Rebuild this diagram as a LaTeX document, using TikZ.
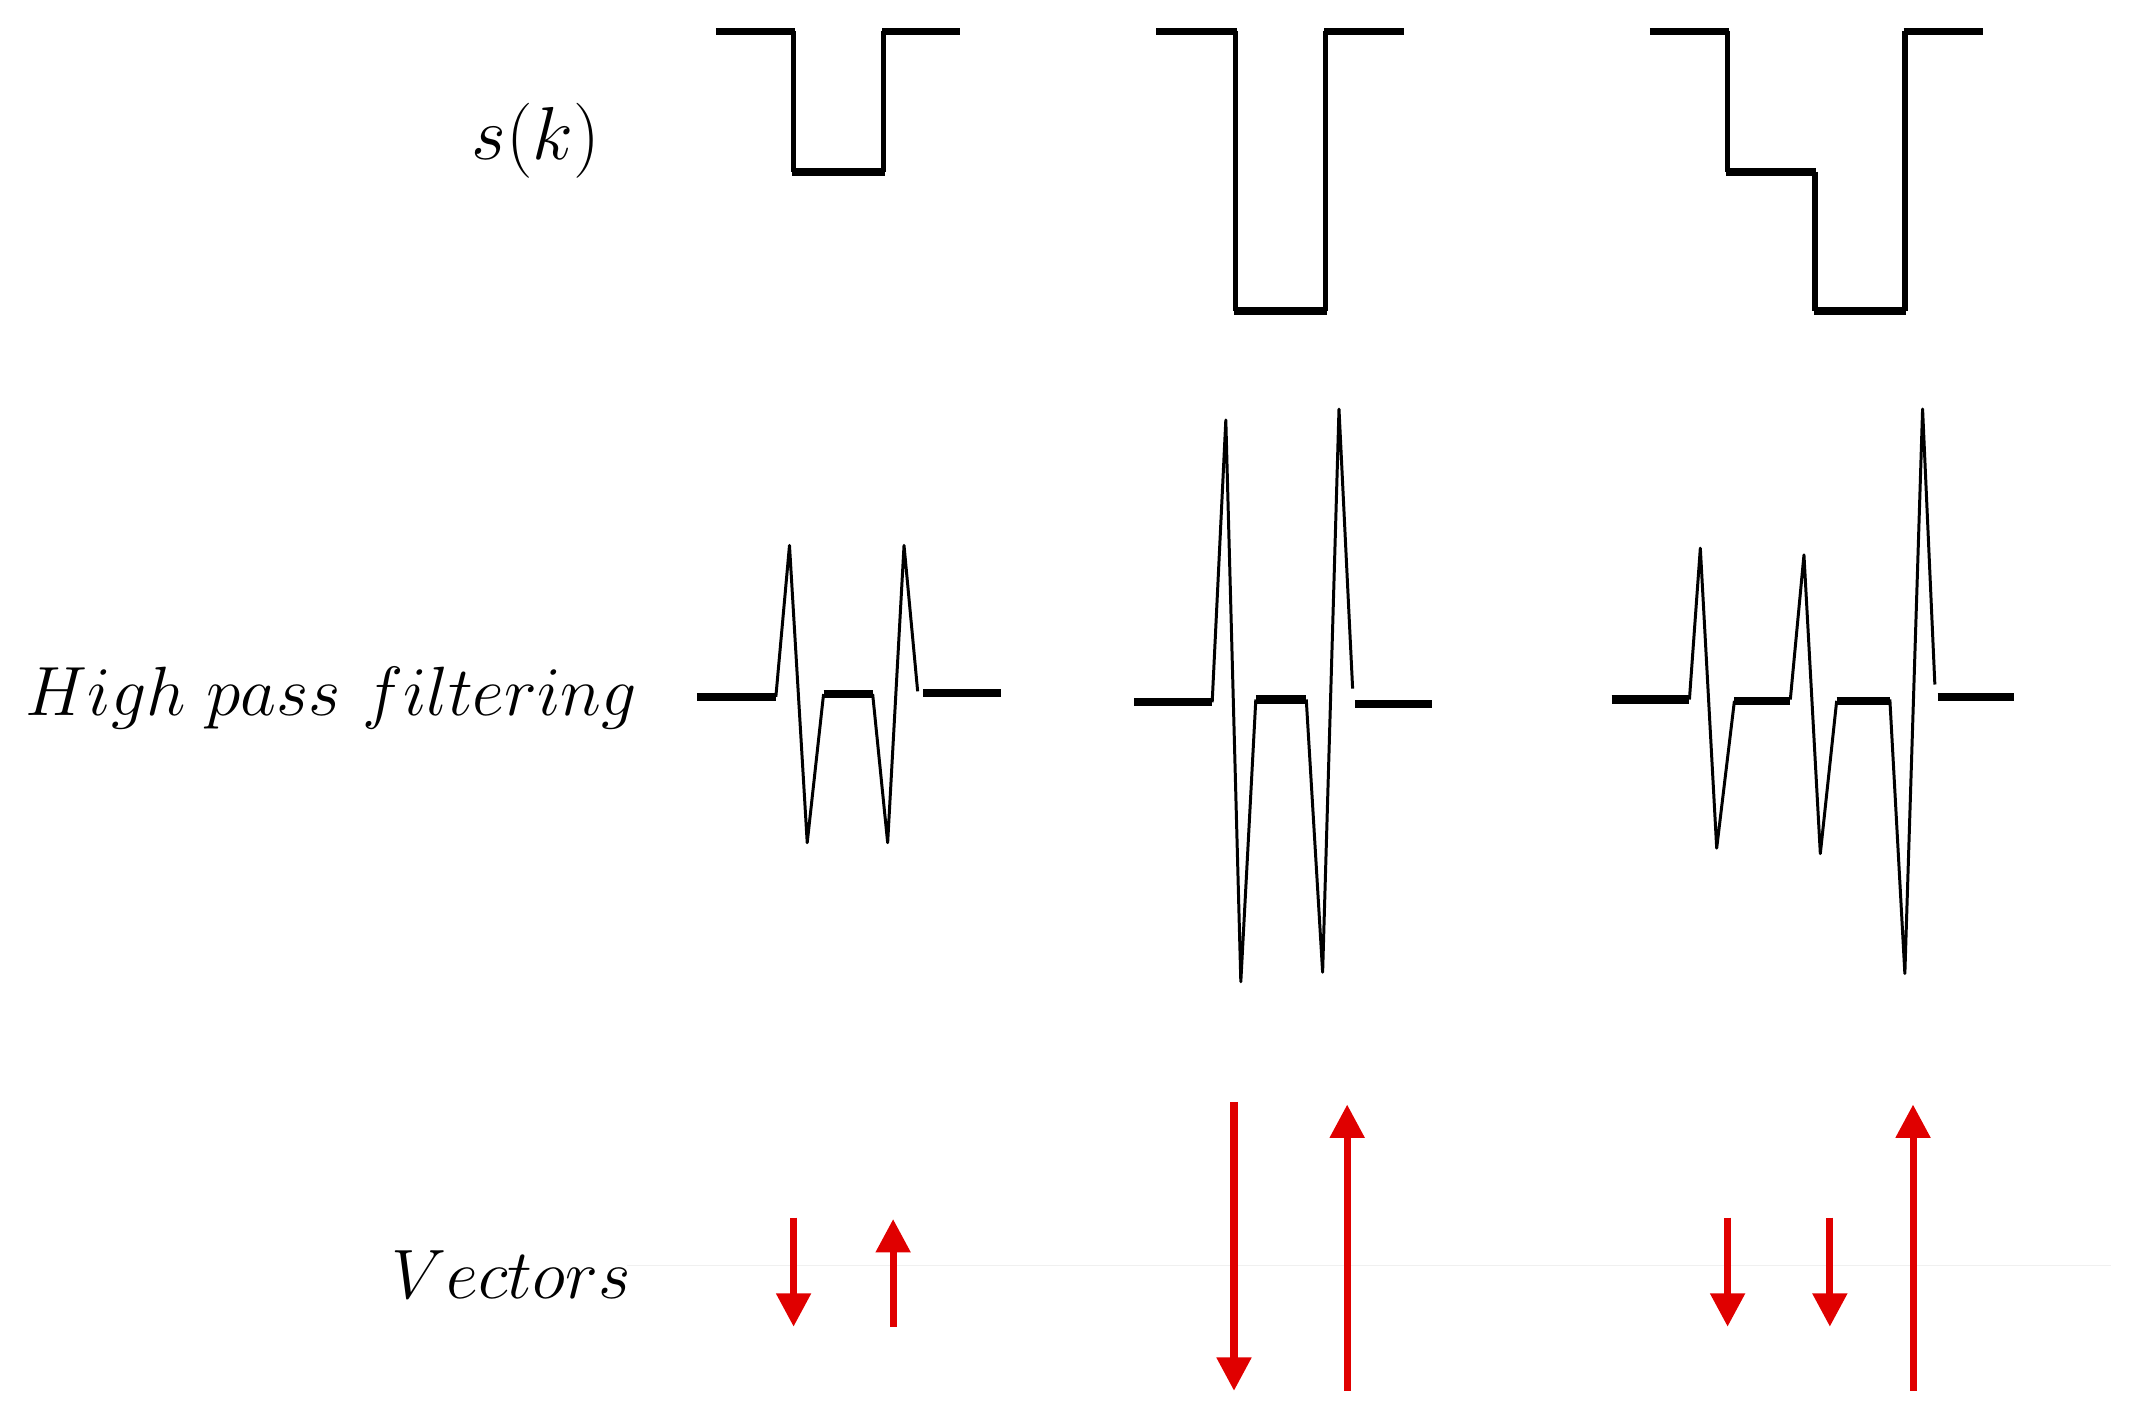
\documentclass[tikz,border=0pt]{standalone}
\usepackage{graphicx}
\usetikzlibrary{arrows.meta}
\definecolor{vecred}{RGB}{224,0,0}
\begin{document}
\begin{tikzpicture}[x=0.013635cm,y=-0.013635cm,
  sqflat/.style={line width=2.2pt, line cap=butt},
  sqvert/.style={line width=1.6pt},
  hpflat/.style={line width=2.3pt, line cap=butt},
  spike/.style={line width=0.85pt, line join=round},
  vec/.style={vecred, line width=2pt, -{Triangle[width=9.5pt,length=9.5pt]}},
  lbl/.style={inner sep=0pt, font=\fontsize{20.74}{25}\selectfont}]
\useasboundingbox (0,0) rectangle (1568,1041);

% labels
\node[lbl] (lsk) at (393,103) {\scalebox{1.03}{$s(k)$}};
\node[lbl] (lhp) at (243,512) {\scalebox{0.957}{$High\ pass\ filtering$}};
\node[lbl] (lvec) at (375,935) {\scalebox{0.96}{$Vectors$}};

% faint baseline
\draw[gray!12, line width=0.5pt] (460,928) -- (1548,928);

% ---------- row 1: s(k) ----------
% wave A
\draw[sqvert] (582,23) -- (582,126) (648,126) -- (648,23);
\draw[sqflat] (525,23) -- (583,23) (581,126) -- (649,126) (647,23) -- (704,23);
% wave B
\draw[sqvert] (906,23) -- (906,228) (972,228) -- (972,23);
\draw[sqflat] (848,23) -- (907,23) (905,228) -- (973,228) (971,23) -- (1030,23);
% wave C
\draw[sqvert] (1267,23) -- (1267,126) (1331,126) -- (1331,228) (1397,228) -- (1397,23);
\draw[sqflat] (1210,23) -- (1268,23) (1266,126) -- (1332,126) (1330,228) -- (1398,228) (1396,23) -- (1454,23);

% ---------- row 2: high pass ----------
% wave A
\draw[spike] (569,511) -- (579,400) -- (592,618) -- (604,509);
\draw[spike] (640,509) -- (651,618) -- (663,400) -- (673,507);
\draw[hpflat] (511,511) -- (569,511) (604,509) -- (640,509) (677,508) -- (734,508);
% wave B
\draw[spike] (889,515) -- (899,308) -- (910,720) -- (921,513);
\draw[spike] (958,513) -- (970,713) -- (982,300) -- (992,505);
\draw[hpflat] (832,515) -- (889,515) (921,513) -- (958,513) (994,516) -- (1050,516);
% wave C
\draw[spike] (1239,513) -- (1247,402) -- (1259,622) -- (1272,514);
\draw[spike] (1313,513) -- (1323,407) -- (1335,626) -- (1347,514);
\draw[spike] (1386,513) -- (1397,714) -- (1410,300) -- (1419,502);
\draw[hpflat] (1182,513) -- (1239,513) (1272,514) -- (1313,514) (1347,514) -- (1386,514) (1421,511) -- (1477,511);

% ---------- row 3: vectors ----------
\coordinate (a1s) at (582,893); \coordinate (a1e) at (582,973);
\coordinate (a2s) at (655,973); \coordinate (a2e) at (655,894);
\coordinate (b1s) at (905,808); \coordinate (b1e) at (905,1020);
\coordinate (b2s) at (988,1020); \coordinate (b2e) at (988,810);
\coordinate (c1s) at (1267,893); \coordinate (c1e) at (1267,973);
\coordinate (c2s) at (1342,893); \coordinate (c2e) at (1342,973);
\coordinate (c3s) at (1403,1020); \coordinate (c3e) at (1403,810);
\draw[vec] (a1s) -- (a1e);
\draw[vec] (a2s) -- (a2e);
\draw[vec] (b1s) -- (b1e);
\draw[vec] (b2s) -- (b2e);
\draw[vec] (c1s) -- (c1e);
\draw[vec] (c2s) -- (c2e);
\draw[vec] (c3s) -- (c3e);
\end{tikzpicture}
\end{document}
